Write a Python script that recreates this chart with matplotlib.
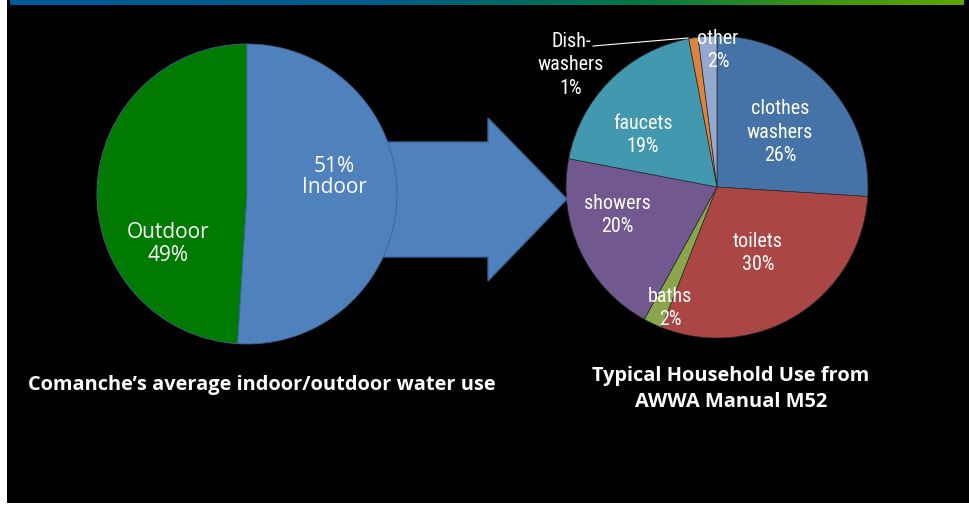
import numpy as np
import matplotlib
matplotlib.use("Agg")
import matplotlib.pyplot as plt
from matplotlib.patches import Rectangle, Polygon

# ---- data ----
left_labels = ["Outdoor", "Indoor"]
left_values = [49, 51]
left_colors = ["#007A00", "#4F81BD"]

right_labels = ["clothes\nwashers", "toilets", "baths", "showers", "faucets", "Dish-\nwashers", "other"]
right_values = [26, 30, 2, 20, 19, 1, 2]
right_colors = ["#4572A7", "#AA4643", "#89A54E", "#71588F", "#4198AF", "#DB843D", "#93A9CF"]

title_left = "Comanche\u2019s average indoor/outdoor water use"
title_right = "Typical Household Use from\nAWWA Manual M52"

W, H = 969, 508
fig = plt.figure(figsize=(W / 100, H / 100), dpi=100, facecolor="white")
ax = fig.add_axes([0, 0, 1, 1])

def Y(y):
    return H - y

# background
ax.add_patch(Rectangle((7, Y(503)), W - 7, 503, facecolor="black", edgecolor="none", zorder=0))

# top gradient bar
grad = np.linspace(0, 1, 400)
stops = [(0.0, (0/255, 90/255, 150/255)), (0.38, (0/255, 92/255, 140/255)),
         (0.65, (0/255, 118/255, 70/255)), (0.85, (60/255, 150/255, 20/255)),
         (1.0, (95/255, 165/255, 0/255))]
xs = [s[0] for s in stops]
rgb = np.stack([np.interp(grad, xs, [s[1][i] for s in stops]) for i in range(3)], axis=-1)
ax.imshow(rgb[np.newaxis, :, :], extent=(10, 964, Y(5), Y(0)), aspect="auto", zorder=1)

# arrow (behind left pie)
arrow = Polygon([(380, Y(142)), (488, Y(142)), (488, Y(118)), (567, Y(199)),
                 (488, Y(281)), (488, Y(257)), (380, Y(257))], closed=True,
                facecolor="#4F81BD", edgecolor="#3A6494", linewidth=1.0, zorder=3)

# left pie
wl, _ = ax.pie(left_values, colors=left_colors, startangle=90, counterclock=True,
               center=(247, Y(194)), radius=150,
               wedgeprops=dict(edgecolor="#3A6494", linewidth=0.6))
for w in wl:
    w.set_zorder(4)
ax.add_patch(arrow)

# right pie
wr, _ = ax.pie(right_values, colors=right_colors, startangle=90, counterclock=False,
               center=(717, Y(187)), radius=151,
               wedgeprops=dict(edgecolor="#2A2A2A", linewidth=0.5))
for w in wr:
    w.set_zorder(2)

# left labels
lfont = ["Open Sans", "DejaVu Sans"]
ax.text(168, Y(244), f"{left_labels[0]}\n{left_values[0]}%", ha="center", va="center",
        color="white", fontsize=15, family=lfont, linespacing=1.1, zorder=6)
ax.text(334, Y(177), f"{left_values[1]}%\n{left_labels[1]}", ha="center", va="center",
        color="white", fontsize=15, family=lfont, linespacing=0.95, zorder=6)

# right labels
rfont = ["Liberation Sans Narrow", "Roboto Condensed", "DejaVu Sans"]
rpos = [(780, 132), (758, 253), (670, 308), (617, 215), (643, 135), (571, 65), (718, 50)]
for lab, v, (x, y) in zip(right_labels, right_values, rpos):
    ax.text(x, Y(y), f"{lab}\n{v}%", ha="center", va="center", color="white",
            fontsize=14.5, family=rfont, linespacing=1.3, zorder=6)
# leader line for dishwashers
ax.plot([593, 688], [Y(46), Y(38)], color="white", linewidth=0.8, zorder=6)

# titles
tfont = ["Open Sans", "DejaVu Sans"]
ax.text(262, Y(385), title_left, ha="center", va="center", color="white",
        fontsize=14.4, fontweight="bold", family=tfont, zorder=6)
ax.text(731, Y(389), title_right, ha="center", va="center", color="white",
        fontsize=14.4, fontweight="bold", family=tfont, linespacing=1.35, zorder=6)

ax.set_xlim(0, W)
ax.set_ylim(0, H)
ax.set_aspect("auto")
ax.axis("off")
fig.savefig("out.png", dpi=100, facecolor="white")
